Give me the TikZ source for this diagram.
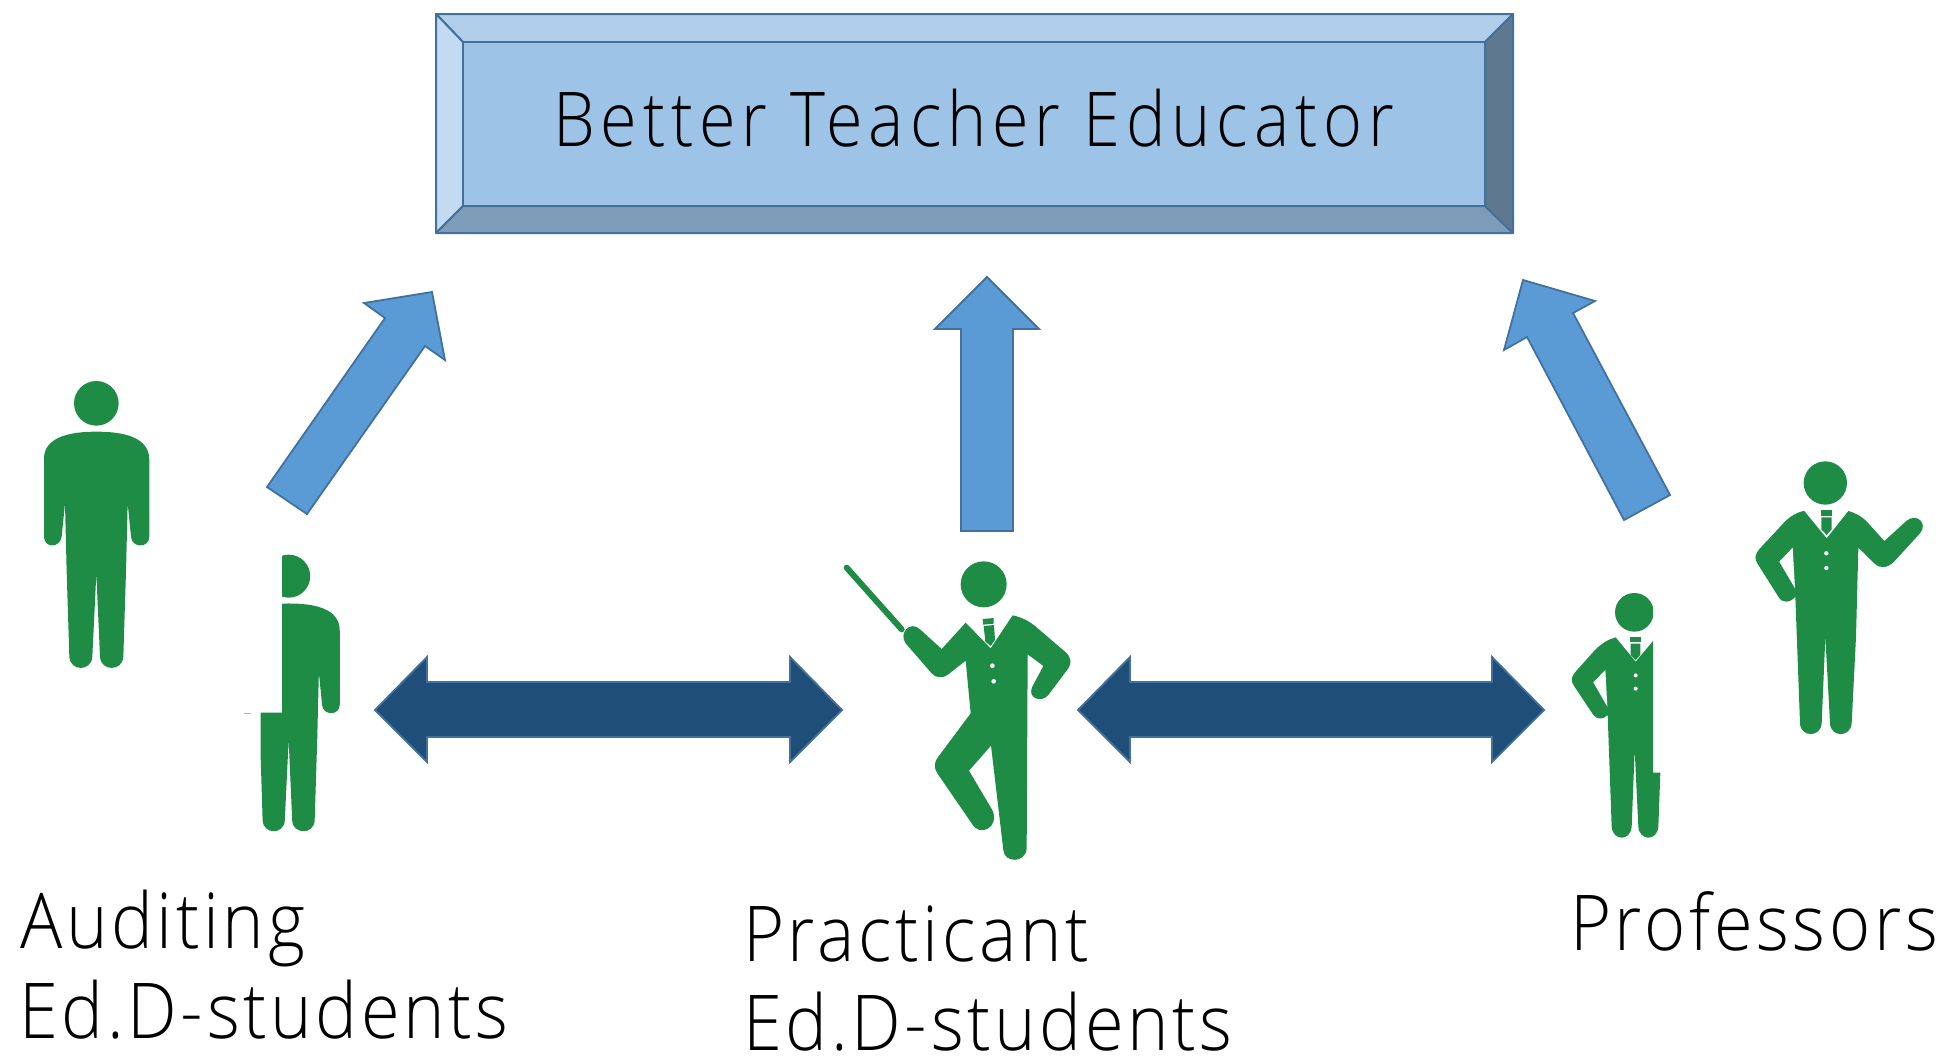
\documentclass[tikz,border=0pt]{standalone}
\usepackage{fontspec}
\setmainfont{Open Sans}[UprightFont=* Light,FakeStretch=.914,LetterSpace=4.7]
\newfontfamily\titlefont{Open Sans}[UprightFont=* Light,FakeStretch=.88,LetterSpace=7.7]
\definecolor{figgreen}{HTML}{1E8C45}
\definecolor{arrowblue}{HTML}{5B9BD5}
\definecolor{arrowdark}{HTML}{1F4E79}
\definecolor{edgeblue}{HTML}{41719C}
\definecolor{facemid}{HTML}{9DC3E6}
\definecolor{facetop}{HTML}{B1CFEB}
\definecolor{faceleft}{HTML}{C4DAF0}
\definecolor{facebottom}{HTML}{7E9CB8}
\definecolor{faceright}{HTML}{5E788F}
\tikzset{
    bevel/.style={draw=edgeblue,line width=2pt,line join=round},
    uparrow/.style={draw=edgeblue,line width=1.8pt,fill=arrowblue,line join=miter},
    bothways/.style={draw=edgeblue,line width=1.8pt,fill=arrowdark,line join=miter},
    figure/.style={fill=figgreen},
    gap/.style={fill=white},
    label/.style={anchor=base west,inner sep=0pt,font=\fontsize{77}{77}\selectfont},
    titlelabel/.style={anchor=base west,inner sep=0pt,font=\titlefont\fontsize{75.6}{76}\selectfont},
}
\newcommand{\plainman}{
    \fill[figure] (289,130) circle (67);
    \fill[figure] (289,215) .. controls (400,215) and (448,245) .. (448,300) -- (448,530)
        .. controls (448,565) and (395,565) .. (393,530) -- (383,430) -- (378,635) -- (370,890)
        .. controls (368,935) and (302,935) .. (300,890) -- (289,640) -- (277,890)
        .. controls (275,935) and (210,935) .. (208,890) -- (200,635) -- (195,430) -- (185,530)
        .. controls (180,565) and (132,565) .. (132,530) -- (132,300)
        .. controls (130,245) and (180,215) .. (289,215) -- cycle;
}
\begin{document}
\begin{tikzpicture}[x=1pt,y=-1pt]
    \useasboundingbox (0,0) rectangle (1942,1055);

    % bevelled box
    \draw[bevel,fill=facetop] (436,14) -- (1513,14) -- (1485,42) -- (463,42) -- cycle;
    \draw[bevel,fill=faceleft] (436,14) -- (463,42) -- (463,206) -- (436,233) -- cycle;
    \draw[bevel,fill=facebottom] (436,233) -- (463,206) -- (1485,206) -- (1513,233) -- cycle;
    \draw[bevel,fill=faceright] (1513,14) -- (1485,42) -- (1485,206) -- (1513,233) -- cycle;
    \draw[bevel,fill=facemid] (463,42) rectangle (1485,206);
    \node[titlelabel] (title) at (553,146) {Better Teacher Educator};

    % arrows to the box
    \draw[uparrow] (267,487) -- (385,318) -- (364,303) -- (432,292) -- (445,360) -- (425,346) -- (307,514) -- cycle;
    \draw[uparrow] (961,531) -- (961,329) -- (935,329) -- (987,277) -- (1039,329) -- (1013,329) -- (1013,531) -- cycle;
    \draw[uparrow] (1624,520) -- (1527,337) -- (1504,350) -- (1523,280) -- (1595,301) -- (1573,313) -- (1670,495) -- cycle;

    % arrows between the groups
    \draw[bothways] (375,710) -- (427,657) -- (427,682) -- (790,682) -- (790,657) -- (842,710) -- (790,762) -- (790,737) -- (427,737) -- (427,762) -- cycle;
    \draw[bothways] (1078,710) -- (1130,657) -- (1130,682) -- (1492,682) -- (1492,657) -- (1544,710) -- (1492,762) -- (1492,737) -- (1130,737) -- (1130,762) -- cycle;

    % auditing students
    \begin{scope}[shift={(0,360)},scale=1/3]
        \plainman
        \begin{scope}
            \clip (846,500) -- (846,1058) -- (782,1058) -- (782,1500) -- (1100,1500) -- (1100,500) -- cycle;
            \begin{scope}[shift={(587.4,523.2)},scale=.964]
                \plainman
            \end{scope}
        \end{scope}
        \draw[figgreen!50,line width=.7pt] (732,1060) -- (752,1060);
    \end{scope}

    % practicant
    \begin{scope}[shift={(820,540)},scale=1/3]
        \fill[figure] (491,133) circle (69);
        \draw[figgreen,line width=6pt,line cap=round] (80,83) -- (245,268);
        \fill[figure] (437,248) -- (512,325) -- (578,226) .. controls (605,232) and (625,242) .. (645,258)
            -- (735,335) .. controls (755,352) and (755,370) .. (745,385) -- (685,465)
            .. controls (665,490) and (620,475) .. (637,440) -- (670,378) -- (623,343) -- (620,925)
            .. controls (618,970) and (552,970) .. (550,930) -- (513,617) -- (447,692) -- (517,810)
            .. controls (540,860) and (480,895) .. (455,850) -- (352,700)
            .. controls (340,680) and (343,665) .. (355,650) -- (452,520) -- (437,362) -- (385,403)
            .. controls (365,418) and (345,412) .. (335,400) -- (257,310)
            .. controls (235,280) and (270,240) .. (300,268) -- (365,327) -- cycle;
        \fill[figure] (488,237) -- (521,234) -- (521,251) -- (489,254) -- cycle;
        \fill[figure] (491,258) -- (522,255) -- (525,300) -- (512,318) -- (496,305) -- cycle;
        \fill[gap] (517,377) circle (7);
        \fill[gap] (521,424) circle (7);
    \end{scope}

    % professors
    \begin{scope}[shift={(1540,440)},scale=1/3]
        \fill[figure] (856,129) circle (65);
        \fill[figure] (792,212) -- (860,295) -- (925,213) .. controls (950,220) and (970,232) .. (985,250)
            -- (1033,303) -- (1100,242) .. controls (1130,218) and (1165,250) .. (1140,280) -- (1062,365)
            .. controls (1040,388) and (1015,383) .. (1005,372) -- (955,323) -- (948,590) -- (935,850)
            .. controls (932,893) and (872,893) .. (870,850) -- (856,590) -- (845,850)
            .. controls (842,893) and (782,893) .. (780,850) -- (766,470)
            .. controls (750,490) and (725,490) .. (715,470) -- (655,375)
            .. controls (642,355) and (643,345) .. (660,325) -- (730,250) .. controls (750,228) and (770,218) .. (792,212) -- cycle;
        \fill[gap] (758,323) -- (718,365) -- (765,445) -- cycle;
        \fill[gap] (843,210) rectangle (876,233);
        \fill[figure] (843,211) rectangle (876,228);
        \fill[figure] (844,232) -- (875,232) -- (875,268) -- (860,285) -- (844,268) -- cycle;
        \fill[gap] (859,340) circle (6.5);
        \fill[gap] (859,384) circle (6.5);

        \begin{scope}
            \clip (0,400) rectangle (339,998);
            \fill[figure] (283,517) circle (58);
        \end{scope}
        \fill[figure] (227,592) -- (287,665) -- (339,603) -- (339,998) -- (361,998) -- (355,1160)
            .. controls (352,1204) and (298,1204) .. (295,1160) -- (284,930) -- (275,1160)
            .. controls (272,1204) and (218,1204) .. (215,1160) -- (203,825)
            .. controls (190,840) and (170,838) .. (160,825) -- (102,738)
            .. controls (92,722) and (93,712) .. (105,697) -- (165,630) .. controls (185,610) and (205,598) .. (227,592) -- cycle;
        \fill[gap] (196,690) -- (160,727) -- (202,800) -- cycle;
        \fill[figure] (271,590) rectangle (302,606);
        \fill[figure] (272,611) -- (301,611) -- (301,645) -- (287,660) -- (272,645) -- cycle;
        \fill[gap] (287,706) circle (6);
        \fill[gap] (287,746) circle (6);
    \end{scope}

    % labels
    \node[label] (auditing) at (20,948) {Auditing};
    \node[label] (auditingb) at (19,1038) {Ed.D-students};
    \node[label] (practicant) at (743,961) {Practicant};
    \node[label] (practicantb) at (743,1050) {Ed.D-students};
    \node[label] (professors) at (1570,950) {Professors};
\end{tikzpicture}
\end{document}
